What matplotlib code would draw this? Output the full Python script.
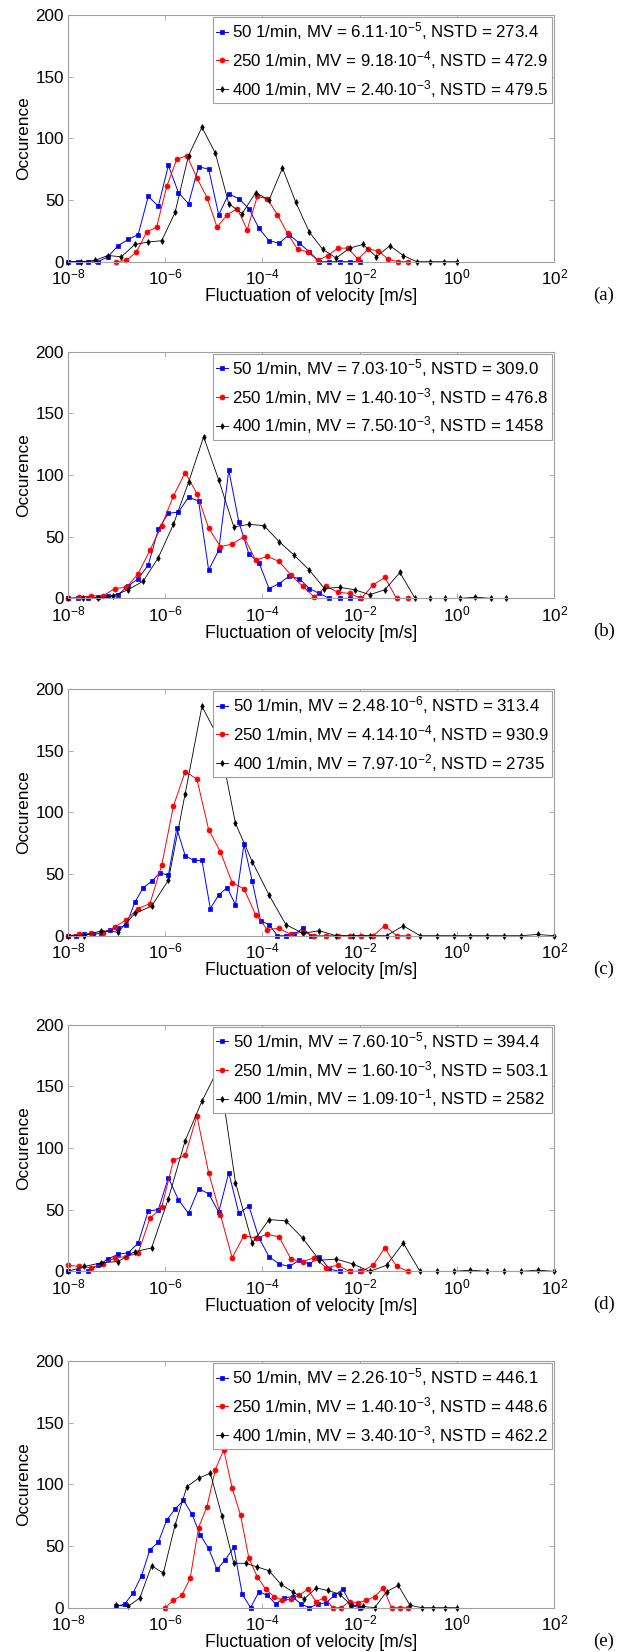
import numpy as np
import matplotlib
matplotlib.use('Agg')
import matplotlib.pyplot as plt

plt.rcParams['font.family'] = ['Liberation Sans', 'DejaVu Sans']
plt.rcParams['mathtext.fontset'] = 'custom'
plt.rcParams['mathtext.rm'] = 'Liberation Sans'
plt.rcParams['mathtext.it'] = 'Liberation Sans:italic'
plt.rcParams['mathtext.bf'] = 'Liberation Sans:bold'

# speeds and legend numbers per panel
speeds = [50, 250, 400]
panel_tags = ['(a)', '(b)', '(c)', '(d)', '(e)']
mv_mant = [['6.11', '9.18', '2.40'],
           ['7.03', '1.40', '7.50'],
           ['2.48', '4.14', '7.97'],
           ['7.60', '1.60', '1.09'],
           ['2.26', '1.40', '3.40']]
mv_exp = [[-5, -4, -3],
          [-5, -3, -3],
          [-6, -4, -2],
          [-5, -3, -1],
          [-5, -3, -3]]
nstd = [['273.4', '472.9', '479.5'],
        ['309.0', '476.8', '1458'],
        ['313.4', '930.9', '2735'],
        ['394.4', '503.1', '2582'],
        ['446.1', '448.6', '462.2']]

# bin range (log10 of first and last bin) for each series
range_50 = [(-8, -2), (-8, -2), (-8, -3), (-8, -2), (-7, -2)]
range_250 = [(-7, -1), (-8, -1), (-8, -1), (-8, -1), (-6, -1)]
range_400 = [(-8, 0), (-8, 1), (-8, 2), (-8, 2), (-7, 0)]

# occurrence counts
occ_50 = [
    [0, 0, 0, 0, 4, 13, 18, 22, 53, 45, 78, 56, 47, 77, 75, 38, 55, 51, 43, 27, 17, 15, 22, 15, 8, 0, 0, 0, 0, 0],
    [0, 0, 0, 1, 2, 3, 10, 16, 27, 56, 69, 70, 82, 79, 23, 39, 104, 62, 36, 29, 8, 12, 18, 16, 8, 4, 0, 0, 0, 0],
    [0, 0, 1, 1, 2, 5, 6, 9, 27, 39, 44, 51, 49, 87, 65, 61, 61, 22, 33, 39, 25, 74, 44, 12, 9, 0, 0, 1, 6, 0],
    [0, 0, 0, 5, 10, 14, 15, 23, 49, 50, 76, 58, 47, 67, 63, 48, 80, 47, 53, 27, 12, 6, 4, 9, 6, 12, 2, 0, 0, 0],
    [1, 3, 12, 26, 47, 53, 71, 80, 87, 76, 59, 48, 31, 39, 49, 11, 0, 13, 10, 3, 8, 9, 3, 0, 3, 4, 10, 15, 2, 0],
]
occ_250 = [
    [0, 1, 8, 24, 28, 61, 83, 86, 68, 52, 28, 38, 43, 26, 53, 51, 38, 23, 10, 8, 1, 5, 11, 11, 2, 10, 9, 2, 0, 0],
    [0, 1, 2, 2, 8, 9, 20, 39, 59, 83, 102, 85, 57, 42, 44, 50, 31, 34, 30, 19, 10, 1, 10, 5, 4, 0, 11, 17, 0, 0],
    [0, 1, 2, 2, 7, 13, 22, 26, 57, 105, 133, 127, 86, 68, 43, 38, 17, 5, 6, 1, 3, 0, 0, 0, 0, 0, 0, 8, 0, 0],
    [5, 4, 3, 6, 11, 12, 15, 43, 52, 90, 94, 126, 80, 46, 11, 29, 27, 30, 28, 10, 8, 11, 3, 5, 0, 0, 5, 19, 4, 0],
    [0, 6, 10, 24, 65, 82, 112, 128, 97, 75, 40, 25, 15, 9, 6, 7, 10, 15, 5, 8, 0, 0, 5, 4, 6, 9, 16, 0, 0, 0],
]
occ_400 = [
    [0, 0, 1, 5, 4, 14, 16, 17, 40, 86, 109, 88, 47, 39, 56, 50, 76, 48, 24, 10, 3, 11, 14, 4, 13, 5, 0, 0, 0, 0],
    [0, 0, 0, 2, 7, 14, 33, 60, 94, 131, 96, 58, 60, 59, 46, 35, 23, 8, 9, 7, 3, 7, 21, 0, 0, 0, 0, 1, 0, 0],
    [0, 0, 4, 3, 18, 24, 45, 115, 186, 160, 91, 60, 33, 9, 2, 4, 0, 0, 0, 0, 8, 0, 0, 0, 0, 0, 0, 0, 1, 0],
    [0, 4, 7, 8, 16, 19, 59, 106, 138, 165, 72, 23, 42, 41, 27, 9, 10, 6, 0, 5, 23, 0, 0, 0, 1, 0, 0, 0, 1, 0],
    [2, 1, 8, 34, 28, 67, 98, 105, 109, 74, 36, 36, 33, 30, 19, 13, 7, 16, 14, 11, 2, 1, 0, 13, 18, 2, 0, 0, 0, 0],
]

x_ticks = [1e-8, 1e-6, 1e-4, 1e-2, 1e0, 1e2]
x_ticklabels = ['$10^{-8}$', '$10^{-6}$', '$10^{-4}$', '$10^{-2}$', '$10^{0}$', '$10^{2}$']
y_ticks = [0, 50, 100, 150, 200]

styles = [dict(color='#0000ff', marker='s', ms=3.0, lw=0.7),
          dict(color='#ff0000', marker='o', ms=3.6, lw=0.7),
          dict(color='#000000', marker='d', ms=3.0, lw=0.6)]

W, H = 629, 1652
fig = plt.figure(figsize=(W / 100, H / 100), dpi=100)
ax_left, ax_w, ax_h = 67.7, 486.6, 246.7
ax_tops = [15.0, 351.7, 689.0, 1024.7, 1361.0]
gray = '#a0a0a0'

for p in range(5):
    ax = fig.add_axes([ax_left / W, 1 - (ax_tops[p] + ax_h) / H, ax_w / W, ax_h / H])
    series = [(range_50[p], occ_50[p]), (range_250[p], occ_250[p]), (range_400[p], occ_400[p])]
    for k, (rng, occ) in enumerate(series):
        x = np.logspace(rng[0], rng[1], len(occ))
        st = styles[k]
        label = (f'{speeds[k]} 1/min, MV = {mv_mant[p][k]}$\\cdot$10$^{{{mv_exp[p][k]}}}$'
                 f', NSTD = {nstd[p][k]}')
        ax.plot(x, occ, color=st['color'], marker=st['marker'], markersize=st['ms'],
                linewidth=st['lw'], markeredgewidth=0.5, label=label, clip_on=False)
    ax.set_xscale('log')
    ax.set_xlim(1e-8, 1e2)
    ax.set_ylim(0, 200)
    ax.set_xticks(x_ticks)
    ax.set_xticklabels(x_ticklabels)
    ax.xaxis.set_minor_locator(matplotlib.ticker.NullLocator())
    ax.set_yticks(y_ticks)
    ax.tick_params(direction='in', top=True, right=True, length=3.5, width=0.6, color=gray,
                   labelsize=12.3)
    ax.tick_params(axis='x', pad=4.5)
    ax.tick_params(axis='y', pad=2.7)
    for s in ax.spines.values():
        s.set_color(gray)
        s.set_linewidth(0.8)
    ax.set_xlabel('Fluctuation of velocity [m/s]', fontsize=12.7, labelpad=0)
    ax.set_ylabel('Occurence', fontsize=12.4, labelpad=3)
    leg = ax.legend(loc='upper right', borderaxespad=0.12, fontsize=12.2, handlelength=0.7,
                    handletextpad=0.25, labelspacing=0.4, borderpad=0.2, fancybox=False,
                    framealpha=1, markerscale=1.0)
    leg.get_frame().set_edgecolor(gray)
    leg.get_frame().set_linewidth(0.8)
    ax.text(1.102, -0.135, panel_tags[p], transform=ax.transAxes, ha='center', va='center',
            fontsize=13.5, family=['Liberation Serif', 'DejaVu Serif'])

fig.savefig('out.png', dpi=100)
